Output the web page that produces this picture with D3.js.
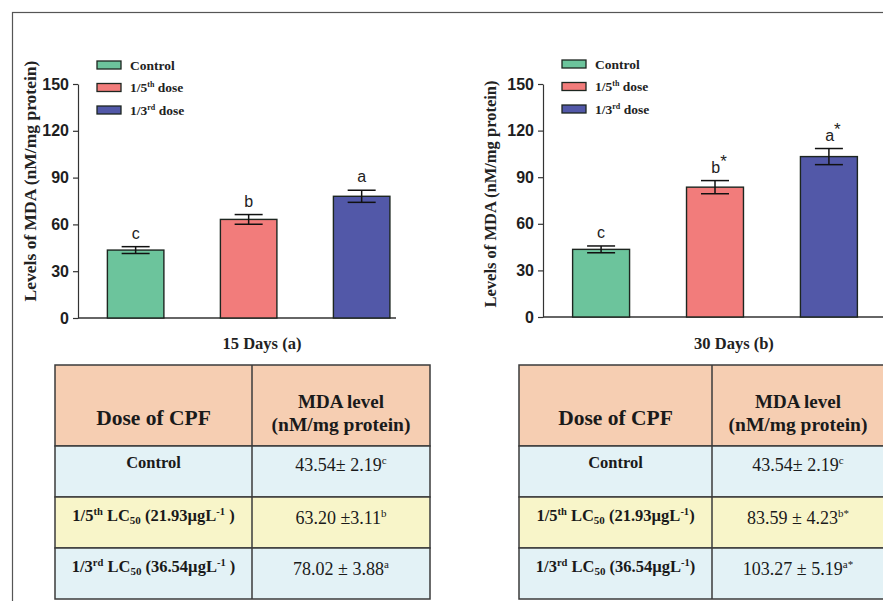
<!DOCTYPE html>
<html>
<head>
<meta charset="utf-8">
<script src="https://cdn.jsdelivr.net/npm/d3@7"></script>
<style>
  body { margin: 0; background: #fff; }
  .tick text { font-family: "Liberation Sans", Arial, sans-serif; font-weight: bold; font-size: 16px; fill: #1e1e1e; }
  .serif { font-family: "Liberation Serif", "Times New Roman", serif; }
</style>
</head>
<body>
<svg width="883" height="601"></svg>
<script>
// groups and legend text
var groups = ["Control", "1/5th dose", "1/3rd dose"];
var legendMain = ["Control", "1/5", "1/3"];
var legendSup = ["", "th", "rd"];
var legendTail = ["", " dose", " dose"];
var barColors = ["#6cc49c", "#f27c7b", "#5258a8"];
var yTicks = [0, 30, 60, 90, 120, 150];

// 15 days
var mda15 = [43.54, 63.20, 78.02];
var sem15 = [2.19, 3.11, 3.88];
var sig15 = ["c", "b", "a"];
var star15 = ["", "", ""];
var sep15 = ["\u00b1 ", " \u00b1", " \u00b1 "];

// 30 days
var mda30 = [43.54, 83.59, 103.27];
var sem30 = [2.19, 4.23, 5.19];
var sig30 = ["c", "b", "a"];
var star30 = ["", "*", "*"];
var sep30 = ["\u00b1 ", " \u00b1 ", " \u00b1 "];

// table dose labels
var doseFrac = ["Control", "1/5", "1/3"];
var doseSup = ["", "th", "rd"];
var doseConc = ["", "21.93", "36.54"];

var svg = d3.select("svg");

// outer frame
svg.append("rect")
    .attr("x", 12.5).attr("y", 12.5)
    .attr("width", 900).attr("height", 600)
    .attr("fill", "none")
    .attr("stroke", "#555")
    .attr("stroke-width", 1.2);

function drawPanel(p) {
  var y = d3.scaleLinear().domain([0, 150]).range([p.y0, p.y150]);
  var x = d3.scaleBand()
      .domain(groups)
      .range([p.xAxis, p.xAxis + p.bandWidth])
      .paddingInner(0.5)
      .paddingOuter(0.26);
  var g = svg.append("g");

  // y axis
  var ya = g.append("g")
      .attr("transform", "translate(" + p.xAxis + ",0)")
      .call(d3.axisLeft(y).tickValues(yTicks).tickSize(5).tickSizeOuter(0).tickPadding(4));
  ya.selectAll("path, line").attr("stroke", "#333").attr("stroke-width", 1.2);

  // x axis line
  g.append("line")
      .attr("x1", p.xAxis).attr("x2", p.xEnd)
      .attr("y1", y(0)).attr("y2", y(0))
      .attr("stroke", "#333").attr("stroke-width", 1.3);

  var data = groups.map(function(k, i) {
    return {key: k, value: p.values[i], sem: p.sems[i], sig: p.sigs[i], star: p.stars[i], color: barColors[i]};
  });

  g.selectAll(".bar")
    .data(data)
    .enter().append("rect")
      .attr("class", "bar")
      .attr("x", function(d) { return x(d.key); })
      .attr("y", function(d) { return y(d.value); })
      .attr("width", x.bandwidth())
      .attr("height", function(d) { return y(0) - y(d.value); })
      .attr("fill", function(d) { return d.color; })
      .attr("stroke", "#1d2620")
      .attr("stroke-width", 1.4);

  // error bars
  var eb = g.selectAll(".err").data(data).enter().append("g").attr("class", "err")
      .attr("stroke", "#111").attr("stroke-width", 1.5);
  eb.append("line")
      .attr("x1", function(d) { return x(d.key) + x.bandwidth() / 2; })
      .attr("x2", function(d) { return x(d.key) + x.bandwidth() / 2; })
      .attr("y1", function(d) { return y(d.value + d.sem); })
      .attr("y2", function(d) { return y(d.value - d.sem); });
  eb.selectAll(".cap")
    .data(function(d) { return [d.value + d.sem, d.value - d.sem].map(function(v) { return {key: d.key, v: v}; }); })
    .enter().append("line")
      .attr("x1", function(d) { return x(d.key) + x.bandwidth() / 2 - 14; })
      .attr("x2", function(d) { return x(d.key) + x.bandwidth() / 2 + 14; })
      .attr("y1", function(d) { return y(d.v); })
      .attr("y2", function(d) { return y(d.v); });

  // significance letters
  var lt = g.selectAll(".sig").data(data).enter().append("text")
      .attr("class", "sig")
      .attr("x", function(d) { return x(d.key) + x.bandwidth() / 2 + (d.star ? 4 : 0); })
      .attr("y", function(d) { return y(d.value + d.sem) - 8; })
      .attr("text-anchor", "middle")
      .attr("font-family", "Liberation Sans, Arial, sans-serif")
      .attr("font-size", 16)
      .attr("fill", "#222");
  lt.append("tspan").text(function(d) { return d.sig; });
  lt.append("tspan").attr("dy", -6).attr("font-size", 17).text(function(d) { return d.star; });

  // y title
  g.append("text")
      .attr("class", "serif")
      .attr("transform", "translate(" + p.titleX + "," + p.titleY + ") rotate(-90)")
      .attr("text-anchor", "middle")
      .attr("font-weight", "bold")
      .attr("font-size", p.titleSize)
      .attr("fill", "#222")
      .text("Levels of MDA (nM/mg protein)");

  // x caption
  g.append("text")
      .attr("class", "serif")
      .attr("x", p.capX).attr("y", 349)
      .attr("text-anchor", "middle")
      .attr("font-weight", "bold")
      .attr("font-size", 16.5)
      .attr("fill", "#222")
      .text(p.caption);

  // legend
  var lg = g.selectAll(".leg").data(groups).enter().append("g")
      .attr("class", "leg")
      .attr("transform", function(d, i) { return "translate(" + p.legX + "," + (p.legY + i * 22.5) + ")"; });
  lg.append("rect")
      .attr("x", 0).attr("y", -4)
      .attr("width", 24).attr("height", 8)
      .attr("fill", function(d, i) { return barColors[i]; })
      .attr("stroke", "#1d2620").attr("stroke-width", 1.3);
  var lgt = lg.append("text")
      .attr("class", "serif")
      .attr("x", 33).attr("y", 4.5)
      .attr("font-weight", "bold").attr("font-size", 13.5).attr("fill", "#222");
  lgt.append("tspan").text(function(d, i) { return legendMain[i]; });
  lgt.append("tspan").attr("dy", -5).attr("font-size", 8).text(function(d, i) { return legendSup[i]; });
  lgt.append("tspan").attr("dy", 5).text(function(d, i) { return legendTail[i]; });
}

drawPanel({xAxis: 78, bandWidth: 341.3, xEnd: 396, y0: 318, y150: 84,
  values: mda15, sems: sem15, sigs: sig15, stars: star15,
  titleX: 36, titleY: 181, titleSize: 17.5, capX: 262, caption: "15 Days (a)",
  legX: 97, legY: 65});

drawPanel({xAxis: 543, bandWidth: 344, xEnd: 883, y0: 317, y150: 84,
  values: mda30, sems: sem30, sigs: sig30, stars: star30,
  titleX: 496, titleY: 194, titleSize: 16.5, capX: 734, caption: "30 Days (b)",
  legX: 562, legY: 64});

function drawTable(t) {
  var lines = [365, 446, 497, 548, 599];
  var fills = ["#f6ceb2", "#e3f2f6", "#f8f5c9", "#e3f2f6"];
  var g = svg.append("g").attr("class", "serif");
  g.selectAll(".row").data(fills).enter().append("rect")
      .attr("x", t.left).attr("y", function(d, i) { return lines[i]; })
      .attr("width", t.right - t.left)
      .attr("height", function(d, i) { return lines[i + 1] - lines[i]; })
      .attr("fill", function(d) { return d; })
      .attr("stroke", "#3b3b3b").attr("stroke-width", 1.5);
  g.append("line")
      .attr("x1", t.mid).attr("x2", t.mid).attr("y1", lines[0]).attr("y2", lines[4])
      .attr("stroke", "#3b3b3b").attr("stroke-width", 1.5);

  var c1 = (t.left + t.mid) / 2, c2 = (t.mid + t.right) / 2;
  g.append("text").attr("x", c1).attr("y", 425).attr("text-anchor", "middle")
      .attr("font-weight", "bold").attr("font-size", 21.5).attr("fill", "#1a1a1a")
      .text("Dose of CPF");
  g.append("text").attr("x", c2).attr("y", 408).attr("text-anchor", "middle")
      .attr("font-weight", "bold").attr("font-size", 19).attr("fill", "#1a1a1a")
      .text("MDA level");
  g.append("text").attr("x", c2).attr("y", 431).attr("text-anchor", "middle")
      .attr("font-weight", "bold").attr("font-size", 19.5).attr("fill", "#1a1a1a")
      .text("(nM/mg protein)");

  var baseY = [468, 521, 572];
  var rows = doseFrac.map(function(f, i) {
    return {frac: f, sup: doseSup[i], conc: doseConc[i], mean: t.means[i], sem: t.sems[i],
            sep: t.seps[i], sig: t.sigs[i] + t.stars[i], y: baseY[i]};
  });

  var lab = g.selectAll(".lab").data(rows).enter().append("text")
      .attr("class", "lab")
      .attr("x", c1).attr("y", function(d) { return d.y; })
      .attr("text-anchor", "middle")
      .attr("font-weight", "bold").attr("font-size", 16.5).attr("fill", "#1a1a1a");
  lab.each(function(d) {
    var s = d3.select(this);
    s.append("tspan").text(d.frac);
    if (!d.conc) return;
    s.append("tspan").attr("dy", -6).attr("font-size", 10.5).text(d.sup);
    s.append("tspan").attr("dy", 6).text(" LC");
    s.append("tspan").attr("dy", 3).attr("font-size", 11).text("50");
    s.append("tspan").attr("dy", -3).text(" (" + d.conc + "\u00b5gL");
    s.append("tspan").attr("dy", -6).attr("font-size", 10.5).text("-1");
    s.append("tspan").attr("dy", 6).text(t.closeSp ? " )" : ")");
  });

  var val = g.selectAll(".val").data(rows).enter().append("text")
      .attr("class", "val")
      .attr("x", c2).attr("y", function(d) { return d.y + 3; })
      .attr("text-anchor", "middle")
      .attr("font-size", 18).attr("fill", "#1a1a1a");
  val.append("tspan").text(function(d) { return d.mean.toFixed(2) + d.sep + d.sem.toFixed(2); });
  val.append("tspan").attr("dy", -7).attr("font-size", 11).text(function(d) { return d.sig; });
}

drawTable({left: 55, mid: 252, right: 430, means: mda15, sems: sem15, seps: sep15,
  sigs: sig15, stars: star15, closeSp: true});
drawTable({left: 519, mid: 712, right: 884, means: mda30, sems: sem30, seps: sep30,
  sigs: sig30, stars: star30, closeSp: false});
</script>
</body>
</html>
